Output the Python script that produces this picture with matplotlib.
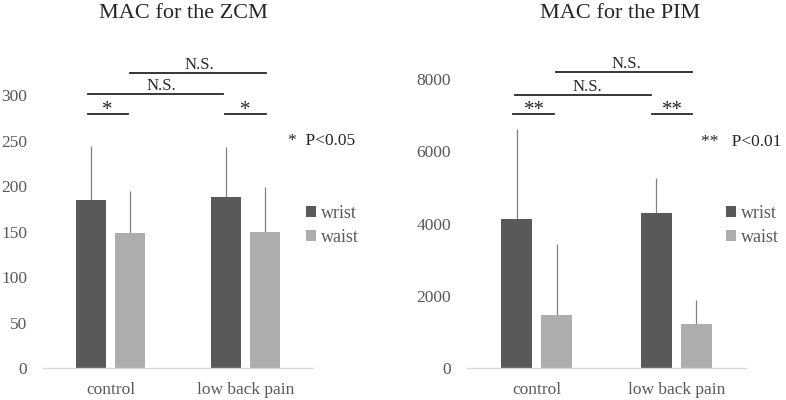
import matplotlib
matplotlib.use("Agg")
import matplotlib.pyplot as plt
import numpy as np

plt.rcParams['font.family'] = ['Liberation Serif', 'DejaVu Serif']

categories = ["control", "low back pain"]
series = ["wrist", "waist"]

zcm_wrist = [184.5, 188]
zcm_wrist_sd = [59.5, 55.5]
zcm_waist = [149, 150]
zcm_waist_sd = [45.5, 49.5]

pim_wrist = [4130, 4285]
pim_wrist_sd = [2480, 970]
pim_waist = [1483, 1216]
pim_waist_sd = [1945, 672]

zcm_ticks = [0, 50, 100, 150, 200, 250, 300]
pim_ticks = [0, 2000, 4000, 6000, 8000]

colors = ["#595959", "#ADADAD"]
grey_text = "#595959"

fig = plt.figure(figsize=(7.86, 4.0), dpi=100)

W, H = 786, 400

def px_axes(x0, x1, y_bottom, height):
    return fig.add_axes([x0 / W, (H - y_bottom) / H, (x1 - x0) / W, height / H])

ax1 = px_axes(43, 313, 368.3, 330 * 0.91)
ax2 = px_axes(467, 746, 368.3, 8800 * 0.03617)

off = 0.143
bw = 0.22

def draw(ax, wrist, wsd, waist, asd, ticks, ytop, brackets, labels, note, note_pos, legend_pos):
    x = np.arange(len(categories))
    ax.bar(x - off, wrist, bw, color=colors[0], label=series[0], zorder=2)
    ax.bar(x + off, waist, bw, color=colors[1], label=series[1], zorder=2)
    ax.errorbar(x - off, wrist, yerr=[np.zeros(len(wsd)), wsd], fmt='none',
                ecolor="#808080", elinewidth=0.9, capsize=0, zorder=1)
    ax.errorbar(x + off, waist, yerr=[np.zeros(len(asd)), asd], fmt='none',
                ecolor="#808080", elinewidth=0.9, capsize=0, zorder=1)
    ax.set_xlim(-0.5, 1.5)
    ax.set_ylim(0, ytop)
    ax.set_yticks(ticks)
    ax.set_yticklabels([str(t) for t in ticks])
    ax.set_xticks(x)
    ax.set_xticklabels(categories)
    for s in ["top", "right", "left"]:
        ax.spines[s].set_visible(False)
    ax.spines["bottom"].set_color("#D9D9D9")
    ax.spines["bottom"].set_linewidth(1.0)
    ax.tick_params(axis='y', length=0, pad=11.5, labelsize=12.5, labelcolor=grey_text)
    ax.tick_params(axis='x', length=0, pad=10, labelsize=12.5, labelcolor=grey_text)
    for (xa, xb, yv), (lab, lx, ly, fs) in zip(brackets, labels):
        ax.plot([xa, xb], [yv, yv], color="#262626", lw=1.3, clip_on=False, zorder=3)
        ax.text(lx, ly, lab, ha='center', va='baseline', fontsize=fs, color="#262626")
    fig.text(note_pos[0] / W, 1 - note_pos[1] / H, note, ha='left', va='center',
             fontsize=12.5, color="#262626")
    leg = ax.legend(loc='upper left', bbox_to_anchor=(legend_pos[0] / W, 1 - legend_pos[1] / H),
                    bbox_transform=fig.transFigure, frameon=False, fontsize=13,
                    handlelength=0.55, handleheight=0.55, handletextpad=0.3,
                    labelspacing=0.4, borderpad=0, borderaxespad=0)
    for t in leg.get_texts():
        t.set_color(grey_text)

u1 = 1 / 0.91
brackets1 = [(0.143, 1.15, 325), (-0.17, 0.835, 301.5), (-0.17, 0.13, 279.5), (0.85, 1.15, 279.5)]
labels1 = [("N.S.", 0.655, 325 + 4 * u1, 12), ("N.S.", 0.38, 301.5 + 4 * u1, 12),
           ("*", -0.026, 279.5 - 1 * u1, 15), ("*", 1.0, 279.5 - 1 * u1, 15)]
draw(ax1, zcm_wrist, zcm_wrist_sd, zcm_waist, zcm_waist_sd, zcm_ticks, 330,
     brackets1, labels1, "*  P<0.05", (288, 141), (306, 205))

u2 = 1 / 0.03617
brackets2 = [(0.14, 1.11, 8183), (-0.155, 0.82, 7565), (-0.17, 0.126, 7022), (0.825, 1.11, 7022)]
labels2 = [("N.S.", 0.64, 8183 + 4 * u2, 12), ("N.S.", 0.36, 7565 + 4 * u2, 12),
           ("**", -0.018, 7022 - 1 * u2, 15), ("**", 0.975, 7022 - 1 * u2, 15)]
draw(ax2, pim_wrist, pim_wrist_sd, pim_waist, pim_waist_sd, pim_ticks, 8800,
     brackets2, labels2, "**   P<0.01", (701, 142), (726, 205))

fig.text(183 / W, 1 - 14 / H, "MAC for the ZCM", ha='center', va='center', fontsize=16, color="#262626")
fig.text(620 / W, 1 - 14 / H, "MAC for the PIM", ha='center', va='center', fontsize=16, color="#262626")

fig.savefig("out.png", dpi=100)
